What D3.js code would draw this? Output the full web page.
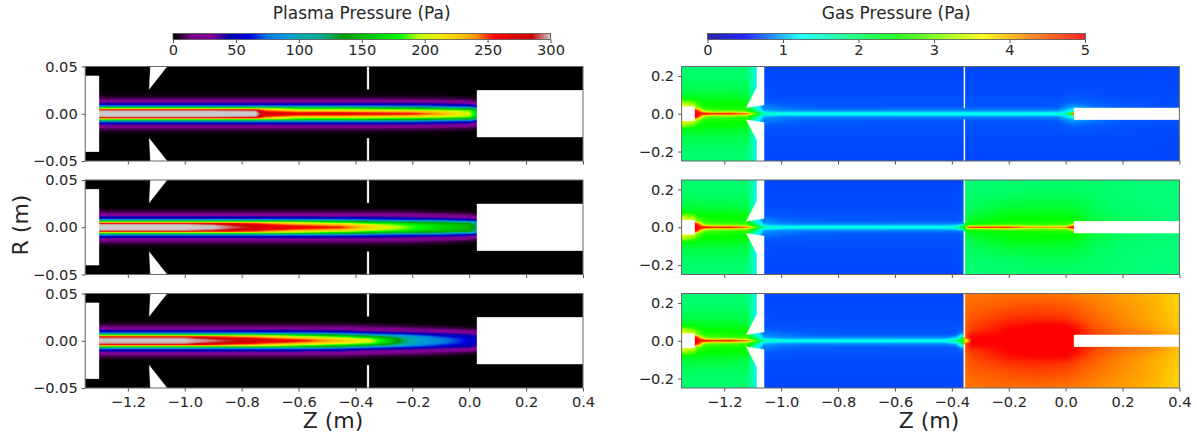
<!DOCTYPE html>
<html><head><meta charset="utf-8">
<script src="https://cdn.jsdelivr.net/npm/d3@7"></script>
<style>html,body{margin:0;padding:0;background:#fff}svg{display:block}text{font-family:"DejaVu Sans";fill:#262626}</style>
</head><body><div id="chart"></div>
<script>
// ---------- tick labels ----------
const zTicks = [-1.2,-1.0,-0.8,-0.6,-0.4,-0.2,0.0,0.2,0.4];
const plasmaRTicks = [0.05,0.00,-0.05];
const gasRTicks = [0.2,0.0,-0.2];
const plasmaBarTicks = [0,50,100,150,200,250,300];
const gasBarTicks = [0,1,2,3,4,5];

// ---------- plasma pressure (Pa), rows by z station, columns by |R| station ----------
const plasmaR = [0,.002,.0035,.0045,.0055,.0065,.0075,.009,.011,.013,.016,.02,.025];
const plasmaZ = [-1.30,-1.0,-.9,-.75,-.72,-.6,-.45,-.35,-.2,-.1,0,.028];
const plasmaTop = [
 [300,300,295,250,215,170,115,60,42,26,9,1,0],
 [300,300,295,250,215,170,115,60,42,26,9,1,0],
 [300,300,295,250,215,170,115,60,42,26,9,1,0],
 [300,300,290,250,215,170,115,60,42,26,9,1,0],
 [280,262,245,232,205,165,112,60,42,26,9,1,0],
 [268,245,215,195,175,155,108,60,42,26,9,1,0],
 [270,245,215,195,175,150,105,60,42,26,9,1,0],
 [265,240,212,190,168,142,100,60,42,26,9,1,0],
 [260,235,205,182,160,135,95,58,40,25,8,1,0],
 [235,222,200,178,150,120,85,52,38,23,7,1,0],
 [200,195,185,165,135,105,72,48,32,18,5,0,0],
 [165,160,150,130,105,80,55,35,22,10,2,0,0]];
const plasmaMid = [
 [300,300,295,252,215,170,115,60,42,26,9,1,0],
 [300,300,295,252,215,170,115,60,42,26,9,1,0],
 [300,298,285,250,215,170,115,60,42,26,9,1,0],
 [285,275,258,245,212,168,115,60,42,26,9,1,0],
 [275,265,250,238,208,165,115,60,42,26,9,1,0],
 [262,250,230,210,190,155,110,60,42,26,9,1,0],
 [255,238,215,195,170,142,100,58,42,26,9,1,0],
 [222,210,195,175,155,125,90,55,40,25,9,1,0],
 [185,180,170,155,135,110,75,48,35,22,7,1,0],
 [165,162,155,145,125,100,70,45,30,18,5,0,0],
 [150,150,145,130,110,85,55,40,25,12,2,0,0],
 [120,118,112,100,85,65,45,30,18,8,1,0,0]];
const plasmaLow = [
 [300,298,290,250,215,170,115,60,42,26,9,1,0],
 [300,298,290,250,215,170,115,60,42,26,9,1,0],
 [295,288,270,245,212,168,115,60,42,26,9,1,0],
 [280,265,245,230,205,165,112,60,42,26,9,1,0],
 [274,258,238,222,198,160,112,60,42,26,9,1,0],
 [262,242,215,198,178,150,108,60,42,26,9,1,0],
 [230,215,195,175,150,125,92,55,38,25,9,1,0],
 [205,195,170,145,120,95,70,45,30,20,6,0,0],
 [105,103,98,90,80,65,50,38,25,14,4,0,0],
 [80,78,72,65,58,50,42,32,20,10,2,0,0],
 [58,58,55,50,46,40,35,25,14,5,1,0,0],
 [50,50,48,45,40,35,28,20,10,3,0,0,0]];

// ---------- gas pressure (Pa) ----------
const gasR = [0,.006,.012,.02,.03,.04,.06,.08,.12,.18,.25];
const inletZ = [-1.35,-1.305,-1.295,-1.27,-1.24,-1.18,-1.12,-1.09,-1.06];
const gasInlet = [
 [3.6,3.6,3.6,3.6,3.6,3.6,3.3,2.4,2.15,2.0,1.93],
 [5,5,5,5,3.6,3.4,2.9,2.4,2.15,2.0,1.93],
 [5,5,5,4.6,3.2,2.9,2.6,2.4,2.15,2.0,1.93],
 [5,4.4,3.4,2.9,2.7,2.6,2.5,2.35,2.15,2.0,1.93],
 [5,3.9,3.1,2.8,2.65,2.55,2.5,2.35,2.15,2.0,1.93],
 [5,4.0,3.1,2.75,2.6,2.55,2.5,2.35,2.15,2.0,1.93],
 [4.6,3.6,2.9,2.7,2.6,2.5,2.45,2.3,2.12,2.0,1.93],
 [3.0,2.5,2.1,1.8,1.5,1.4,1.4,1.4,1.4,1.4,1.4],
 [1.7,1.3,1.05,.92,.84,.8,.76,.76,.76,.76,.76]];
const driftZ = [-1.06,-1.0,-.9,-.6,-.42,-.385,-.358];
const gasDriftClean = [
 [1.7,1.35,1.1,.95,.9,.85,.76,.73,.72,.71,.7],
 [1.5,1.22,1.0,.88,.84,.8,.75,.73,.72,.71,.7],
 [1.45,1.2,1.0,.85,.79,.76,.74,.73,.72,.71,.7],
 [1.4,1.2,1.0,.86,.78,.74,.74,.73,.72,.71,.7],
 [1.4,1.2,1.0,.86,.78,.74,.74,.73,.72,.71,.7],
 [1.4,1.2,1.0,.86,.78,.74,.74,.73,.72,.71,.7],
 [1.4,1.2,1.0,.86,.78,.74,.74,.73,.72,.71,.7]];
const gasDriftBlip = [
 [1.7,1.35,1.1,.95,.9,.85,.76,.73,.72,.71,.7],
 [1.5,1.22,1.0,.88,.84,.8,.75,.73,.72,.71,.7],
 [1.45,1.2,1.0,.85,.79,.76,.74,.73,.72,.71,.7],
 [1.4,1.2,1.0,.86,.78,.74,.74,.73,.72,.71,.7],
 [1.4,1.2,1.0,.86,.78,.74,.74,.73,.72,.71,.7],
 [1.7,1.3,1.02,.86,.78,.74,.74,.73,.72,.71,.7],
 [2.5,2.0,1.25,.95,.8,.75,.74,.73,.72,.71,.7]];
const gasDriftStrong = [
 [1.7,1.35,1.1,.95,.9,.85,.76,.73,.72,.71,.7],
 [1.5,1.22,1.0,.88,.84,.8,.75,.73,.72,.71,.7],
 [1.45,1.2,1.0,.85,.79,.76,.74,.73,.72,.71,.7],
 [1.4,1.2,1.0,.86,.78,.74,.74,.73,.72,.71,.7],
 [1.4,1.2,1.0,.86,.78,.74,.74,.73,.72,.71,.7],
 [1.9,1.55,1.2,.95,.8,.75,.74,.73,.72,.71,.7],
 [2.7,2.5,2.2,1.8,1.35,.9,.76,.73,.72,.71,.7]];
const outletTopZ = [-.356,-.3,-.1,-.03,0,.015,.024,.032,.1,.2,.3,.4];
const gasOutletTop = [
 [1.4,1.2,1.0,.86,.78,.74,.74,.73,.72,.71,.7],
 [1.4,1.2,1.0,.86,.78,.74,.74,.73,.72,.71,.7],
 [1.4,1.2,1.0,.86,.78,.74,.74,.73,.72,.71,.7],
 [1.45,1.22,1.02,.88,.8,.76,.74,.73,.72,.71,.7],
 [1.8,1.3,1.15,1.05,.95,.85,.76,.74,.72,.71,.7],
 [3.0,1.7,1.35,1.2,1.0,.9,.78,.75,.72,.71,.7],
 [5,3.4,1.5,1.25,1.05,.92,.8,.76,.72,.71,.7],
 [5,5,1.6,1.25,1.05,.92,.8,.76,.72,.71,.7],
 [1.05,1.05,1.0,.93,.87,.82,.77,.74,.72,.71,.7],
 [.82,.82,.8,.78,.76,.75,.74,.73,.72,.71,.7],
 [.78,.78,.77,.76,.75,.74,.73,.72,.71,.71,.7],
 [.76,.76,.75,.74,.74,.73,.72,.72,.71,.7,.7]];
const outletMidZ = [-.356,-.34,-.2,-.1,0,.01,.03,.1,.2,.3,.4];
const gasOutletMid = [
 [2.4,2.3,2.2,2.1,2.05,2,1.95,1.93,1.9,1.9,1.9],
 [5,3.6,2.8,2.5,2.4,2.3,2.2,2.1,2.0,1.95,1.92],
 [5,3.7,2.95,2.65,2.55,2.5,2.45,2.35,2.2,2.0,1.95],
 [4.2,3.3,2.8,2.65,2.55,2.5,2.45,2.35,2.2,2.05,1.95],
 [4.3,3.4,2.9,2.7,2.6,2.5,2.45,2.35,2.2,2.05,1.97],
 [5,3.8,3.0,2.7,2.6,2.5,2.45,2.35,2.2,2.05,1.97],
 [5,5,4.0,3.0,2.6,2.5,2.4,2.3,2.2,2.05,1.97],
 [2.2,2.2,2.2,2.2,2.2,2.2,2.15,2.1,2.05,2.0,1.95],
 [2.0,2.0,2.0,2.0,2.0,2.0,2.0,1.98,1.95,1.93,1.92],
 [1.95,1.95,1.95,1.95,1.95,1.95,1.94,1.93,1.92,1.91,1.9],
 [1.9,1.9,1.9,1.9,1.9,1.9,1.9,1.9,1.9,1.9,1.9]];
const outletLowZ = [-.356,-.33,-.2,-.1,0,.03,.1,.2,.3,.4];
const gasOutletLow = [
 [2.7,3.4,4.2,4.5,4.5,4.5,4.45,4.45,4.4,4.35,4.3],
 [5,5,5,5,4.9,4.8,4.65,4.6,4.5,4.4,4.32],
 [5,5,5,5,5,5,5,4.9,4.7,4.5,4.35],
 [5,5,5,5,5,5,5,5,4.75,4.55,4.35],
 [5,5,5,5,5,5,5,5,4.7,4.5,4.3],
 [5,5,5,5,5,5,4.95,4.85,4.6,4.45,4.25],
 [4.6,4.6,4.6,4.6,4.6,4.6,4.55,4.5,4.4,4.3,4.2],
 [4.35,4.35,4.35,4.35,4.35,4.35,4.3,4.25,4.2,4.15,4.1],
 [4.2,4.2,4.2,4.2,4.2,4.2,4.15,4.1,4.05,4.05,4.0],
 [3.95,3.95,3.95,3.95,3.95,3.95,3.93,3.9,3.88,3.85,3.85]];

// ---------- colour maps: stops of the two colourbars ----------
const plasmaStops = [[0,"#000000"],[.05,"#770088"],[.1,"#880099"],[.15,"#0000aa"],[.2,"#0000dd"],[.25,"#0077dd"],[.3,"#0099dd"],[.35,"#00aaaa"],[.4,"#00aa88"],[.45,"#009900"],[.5,"#00bb00"],[.55,"#00dd00"],[.6,"#00ff00"],[.65,"#bbff00"],[.7,"#eeee00"],[.75,"#ffcc00"],[.8,"#ff9900"],[.85,"#ff0000"],[.9,"#dd0000"],[.95,"#cc0000"],[1,"#cccccc"]];
const gasStops = [[0,"#000090"],[.1,"#0000ff"],[.245,"#00ffff"],[.5,"#00ff00"],[.73,"#ffff00"],[.85,"#ff8000"],[1,"#ff0000"]];

// ---------- white hardware regions [z, R] polygons, mirrored about the axis ----------
const plasmaHardware = [
 [[-1.35,-.04],[-1.302,-.04],[-1.302,.04],[-1.35,.04]],
 [[-1.121,.05],[-1.062,.05],[-1.125,.026]],
 [[.028,-.0245],[.4,-.0245],[.4,.0245],[.028,.0245]],
 [[-.359,.026],[-.3525,.026],[-.3525,.05],[-.359,.05]]];
const gasHardwareCommon = [
 [[-1.35,-.037],[-1.305,-.037],[-1.305,.037],[-1.35,.037]],
 [[-1.085,.25],[-1.06,.25],[-1.06,.046],[-1.123,.032],[-1.085,.14]],
 [[.03,-.03],[.4,-.03],[.4,.03],[.03,.03]]];
const gasSlitInner = [.03,.022,.018];

const W=1197,H=434;
const panelTops=[66.5,180,293.5], panelH=94.5;
const leftX=[85.2,583], rightX=[681.6,1179.4];
const svg=d3.select("#chart").append("svg").attr("width",W).attr("height",H).attr("viewBox",[0,0,W,H]);
const defs=svg.append("defs");
defs.append("filter").attr("id","soft").attr("x",0).attr("y",0).attr("width",1).attr("height",1)
    .attr("color-interpolation-filters","sRGB")
    .append("feGaussianBlur").attr("stdDeviation",.55);

const ramp = stops => d3.scaleLinear().domain(stops.map(d=>d[0])).range(stops.map(d=>d[1])).interpolate(d3.interpolateRgb).clamp(true);
const plasmaRamp = ramp(plasmaStops), gasRamp = ramp(gasStops);
const plasmaColor = v => plasmaRamp(v/300);
const gasColor = v => gasRamp(v/5);

// bilinear lookup in a station grid (renders the sampled values as a smooth field)
function lookup(zs,rs,grid,z,r){
  const bis=d3.bisectRight;
  const i=Math.max(0,Math.min(zs.length-2,bis(zs,z)-1));
  const j=Math.max(0,Math.min(rs.length-2,bis(rs,r)-1));
  const tz=Math.max(0,Math.min(1,(z-zs[i])/(zs[i+1]-zs[i])));
  const tr=Math.max(0,Math.min(1,(r-rs[j])/(rs[j+1]-rs[j])));
  const a=grid[i][j]*(1-tr)+grid[i][j+1]*tr, b=grid[i+1][j]*(1-tr)+grid[i+1][j+1]*tr;
  return a*(1-tz)+b*tz;
}

function drawField(g,x,y,x0,x1,y0,y1,valueAt,colorAt){
  const w=Math.round(x1-x0),h=Math.round(y1-y0);
  const c=document.createElement("canvas");c.width=w;c.height=h;
  const ctx=c.getContext("2d"),img=ctx.createImageData(w,h);
  for(let py=0;py<h;py++){
    const r=Math.abs(y.invert(y0+(py+.5)*(y1-y0)/h));
    for(let px=0;px<w;px++){
      const z=x.invert(x0+(px+.5)*(x1-x0)/w);
      const col=d3.rgb(colorAt(valueAt(z,r)));
      const k=(py*w+px)*4;
      img.data[k]=col.r;img.data[k+1]=col.g;img.data[k+2]=col.b;img.data[k+3]=255;
    }
  }
  ctx.putImageData(img,0,0);
  g.append("image").attr("x",x0).attr("y",y0).attr("width",x1-x0).attr("height",y1-y0)
   .attr("preserveAspectRatio","none").attr("filter","url(#soft)").attr("href",c.toDataURL());
}

function hardware(g,x,y,polys){
  const line=d3.line().x(d=>x(d[0])).y(d=>y(d[1]));
  [1,-1].forEach(sign=>{
    g.selectAll(null).data(polys).join("path")
     .attr("d",p=>line(p.map(d=>[d[0],sign*d[1]]))+"Z").attr("fill","#fff").attr("stroke","#fff").attr("stroke-width",.3);
  });
}

function frame(g,x,y,x0,x1,y0,y1,rTicks,fmt,showZ){
  const ax=g.append("g").attr("transform",`translate(0,${y1})`)
    .call(d3.axisBottom(x).tickValues(zTicks).tickSize(3.5).tickPadding(5).tickFormat(showZ?(d=>d3.format(".1f")(d).replace("-","\u2212")):""));
  ax.select(".domain").remove();
  ax.selectAll("line").attr("stroke","#555").attr("stroke-width",1);
  ax.selectAll("text").attr("font-size",14.6).attr("fill","#262626");
  const ay=g.append("g").attr("transform",`translate(${x0},0)`)
    .call(d3.axisLeft(y).tickValues(rTicks).tickSize(3.5).tickPadding(4).tickFormat(d=>fmt(d).replace("-","\u2212")));
  ay.select(".domain").remove();
  ay.selectAll("line").attr("stroke","#555").attr("stroke-width",1);
  ay.selectAll("text").attr("font-size",14.6).attr("fill","#262626");
  g.append("rect").attr("x",x0).attr("y",y0).attr("width",x1-x0).attr("height",y1-y0)
   .attr("fill","none").attr("stroke","#666").attr("stroke-width",1);
}

const plasmaGrids=[plasmaTop,plasmaMid,plasmaLow];
const gasDrifts=[gasDriftClean,gasDriftBlip,gasDriftStrong];
const gasOutlets=[[outletTopZ,gasOutletTop],[outletMidZ,gasOutletMid],[outletLowZ,gasOutletLow]];

panelTops.forEach((top,i)=>{
  const bot=top+panelH;
  {
    const x=d3.scaleLinear().domain([-1.35,.4]).range(leftX);
    const y=d3.scaleLinear().domain([.05,-.05]).range([top,bot]);
    const g=svg.append("g").attr("class","plasma-panel");
    drawField(g,x,y,leftX[0],leftX[1],top,bot,(z,r)=>lookup(plasmaZ,plasmaR,plasmaGrids[i],z,r),plasmaColor);
    hardware(g,x,y,plasmaHardware);
    frame(g,x,y,leftX[0],leftX[1],top,bot,plasmaRTicks,d3.format(".2f"),i===2);
  }
  {
    const x=d3.scaleLinear().domain([-1.35,.4]).range(rightX);
    const y=d3.scaleLinear().domain([.25,-.25]).range([top,bot]);
    const g=svg.append("g").attr("class","gas-panel");
    const val=(z,r)=>{
      if(z<-1.06) return lookup(inletZ,gasR,gasInlet,z,r);
      if(z<-.358) return lookup(driftZ,gasR,gasDrifts[i],z,r);
      return lookup(gasOutlets[i][0],gasR,gasOutlets[i][1],z,r);
    };
    drawField(g,x,y,rightX[0],rightX[1],top,bot,val,gasColor);
    const s=gasSlitInner[i];
    hardware(g,x,y,gasHardwareCommon.concat([[[-.3578,s],[-.3538,s],[-.3538,.25],[-.3578,.25]]]));
    frame(g,x,y,rightX[0],rightX[1],top,bot,gasRTicks,d3.format(".1f"),i===2);
  }
});

function colorbar(x0,x1,domain,colorAt,ticks,title){
  const s=d3.scaleLinear().domain(domain).range([x0,x1]);
  const g=svg.append("g").attr("class","colorbar");
  const vals=d3.range(Math.round(x1-x0)).map(k=>s.invert(x0+k+.5));
  g.selectAll("rect").data(vals).join("rect").attr("x",d=>s(d)-.5).attr("y",33.5).attr("width",1.2).attr("height",6)
    .attr("fill",d=>colorAt(d));
  g.append("rect").attr("x",x0).attr("y",33.5).attr("width",x1-x0).attr("height",6).attr("fill","none").attr("stroke","#555").attr("stroke-width",.8);
  const a=g.append("g").attr("transform","translate(0,39.5)").call(d3.axisBottom(s).tickValues(ticks).tickSize(3.5).tickPadding(2).tickFormat(d3.format("d")));
  a.select(".domain").remove();
  a.selectAll("line").attr("stroke","#555");
  a.selectAll("text").attr("font-size",14.6).attr("fill","#262626");
  svg.append("text").attr("x",x0+(x1-x0)/2).attr("y",19).attr("text-anchor","middle").attr("font-size",17).text(title);
}
colorbar(173,550.5,[0,300],plasmaColor,plasmaBarTicks,"Plasma Pressure (Pa)");
colorbar(707.5,1085,[0,5],gasColor,gasBarTicks,"Gas Pressure (Pa)");

svg.append("text").attr("x",333).attr("y",428).attr("text-anchor","middle").attr("font-size",22).text("Z (m)");
svg.append("text").attr("x",929).attr("y",428).attr("text-anchor","middle").attr("font-size",22).text("Z (m)");
svg.append("text").attr("transform","translate(28,225) rotate(-90)").attr("text-anchor","middle").attr("font-size",22).text("R (m)");
</script></body></html>
